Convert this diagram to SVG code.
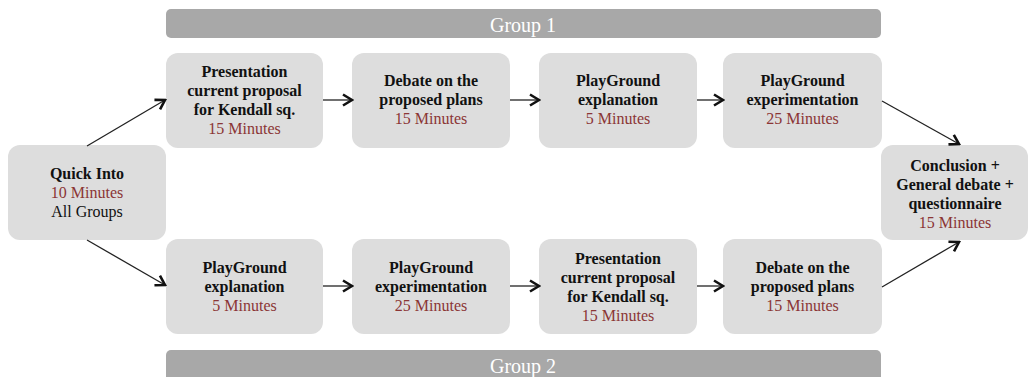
<svg xmlns="http://www.w3.org/2000/svg" width="1029" height="377" viewBox="0 0 1029 377">
<style>
.bar{fill:#a8a8a8}
.bl{font-family:"Liberation Serif",serif;font-size:20px;fill:#ffffff;text-anchor:middle}
.box{fill:#dddddd}
.t{font-family:"Liberation Serif",serif;font-size:16px;text-anchor:middle;fill:#111111}
.b{font-weight:bold}
.m{fill:#8b3535}
.c{stroke:#222222;stroke-width:1.3;fill:none}
</style>
<defs>
<marker id="ah" viewBox="0 0 14 14" refX="12" refY="7" markerWidth="14" markerHeight="14" markerUnits="userSpaceOnUse" orient="auto">
<path d="M3,1.5 L12,7 L3,12.5" fill="none" stroke="#111111" stroke-width="2.6"/>
</marker>
</defs>
<rect width="1029" height="377" fill="#ffffff"/>
<g id="group1-bar"><rect class="bar" x="166" y="9" width="715" height="29" rx="5"/><text class="bl" x="523" y="32">Group 1</text></g>
<g id="group2-bar"><rect class="bar" x="166" y="350" width="715" height="35" rx="5"/><text class="bl" x="523" y="373">Group 2</text></g>
<g id="quick"><rect class="box" x="8" y="145" width="158" height="95" rx="12"/>
<text class="t" x="87"><tspan class="b" x="87" y="179">Quick Into</tspan><tspan class="m" x="87" y="198">10 Minutes</tspan><tspan x="87" y="217">All Groups</tspan></text></g>
<g id="t1"><rect class="box" x="166" y="53" width="157" height="95" rx="12"/>
<text class="t"><tspan class="b" x="244.5" y="77">Presentation</tspan><tspan class="b" x="244.5" y="96">current proposal</tspan><tspan class="b" x="244.5" y="115">for Kendall sq.</tspan><tspan class="m" x="244.5" y="134">15 Minutes</tspan></text></g>
<g id="t2"><rect class="box" x="352" y="53" width="158" height="95" rx="12"/>
<text class="t"><tspan class="b" x="431" y="86">Debate on the</tspan><tspan class="b" x="431" y="105">proposed plans</tspan><tspan class="m" x="431" y="124">15 Minutes</tspan></text></g>
<g id="t3"><rect class="box" x="539" y="53" width="158" height="95" rx="12"/>
<text class="t"><tspan class="b" x="618" y="86">PlayGround</tspan><tspan class="b" x="618" y="105">explanation</tspan><tspan class="m" x="618" y="124">5 Minutes</tspan></text></g>
<g id="t4"><rect class="box" x="723" y="53" width="159" height="95" rx="12"/>
<text class="t"><tspan class="b" x="802.5" y="86">PlayGround</tspan><tspan class="b" x="802.5" y="105">experimentation</tspan><tspan class="m" x="802.5" y="124">25 Minutes</tspan></text></g>
<g id="b1"><rect class="box" x="166" y="239" width="157" height="95" rx="12"/>
<text class="t"><tspan class="b" x="244.5" y="273">PlayGround</tspan><tspan class="b" x="244.5" y="292">explanation</tspan><tspan class="m" x="244.5" y="311">5 Minutes</tspan></text></g>
<g id="b2"><rect class="box" x="352" y="239" width="158" height="95" rx="12"/>
<text class="t"><tspan class="b" x="431" y="273">PlayGround</tspan><tspan class="b" x="431" y="292">experimentation</tspan><tspan class="m" x="431" y="311">25 Minutes</tspan></text></g>
<g id="b3"><rect class="box" x="539" y="239" width="158" height="95" rx="12"/>
<text class="t"><tspan class="b" x="618" y="264">Presentation</tspan><tspan class="b" x="618" y="283">current proposal</tspan><tspan class="b" x="618" y="302">for Kendall sq.</tspan><tspan class="m" x="618" y="321">15 Minutes</tspan></text></g>
<g id="b4"><rect class="box" x="723" y="239" width="159" height="95" rx="12"/>
<text class="t"><tspan class="b" x="802.5" y="273">Debate on the</tspan><tspan class="b" x="802.5" y="292">proposed plans</tspan><tspan class="m" x="802.5" y="311">15 Minutes</tspan></text></g>
<g id="concl"><rect class="box" x="881" y="145" width="147" height="95" rx="12"/>
<text class="t"><tspan class="b" x="955" y="171">Conclusion +</tspan><tspan class="b" x="955" y="190">General debate +</tspan><tspan class="b" x="955" y="209">questionnaire</tspan><tspan class="m" x="955" y="228">15 Minutes</tspan></text></g>
<g id="connectors">
<line class="c" x1="87" y1="146" x2="165" y2="100" marker-end="url(#ah)"/>
<line class="c" x1="87" y1="240" x2="165" y2="285" marker-end="url(#ah)"/>
<line class="c" x1="323" y1="100" x2="352" y2="100" marker-end="url(#ah)"/>
<line class="c" x1="510" y1="100" x2="539" y2="100" marker-end="url(#ah)"/>
<line class="c" x1="697" y1="100" x2="723" y2="100" marker-end="url(#ah)"/>
<line class="c" x1="323" y1="286" x2="352" y2="286" marker-end="url(#ah)"/>
<line class="c" x1="510" y1="286" x2="539" y2="286" marker-end="url(#ah)"/>
<line class="c" x1="697" y1="286" x2="723" y2="286" marker-end="url(#ah)"/>
<line class="c" x1="882" y1="101" x2="959" y2="144" marker-end="url(#ah)"/>
<line class="c" x1="882" y1="287" x2="959" y2="242" marker-end="url(#ah)"/>
</g>
</svg>
